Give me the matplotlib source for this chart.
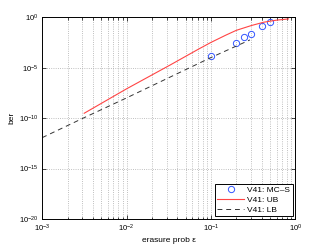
import matplotlib
matplotlib.use("Agg")
import matplotlib.pyplot as plt
from matplotlib.ticker import LogLocator, NullFormatter, FixedLocator

plt.rcParams['font.family'] = ['Liberation Sans', 'DejaVu Sans']

# MC-S simulation points
mc_eps = [0.1, 0.2, 0.25, 0.3, 0.4, 0.5]
mc_ber = [10**-3.8, 10**-2.6, 10**-2.0, 10**-1.7, 10**-0.86, 10**-0.47]

# Upper bound curve
ub_eps = [3.15e-3, 1e-2, 3.3e-2, 0.07, 0.1, 0.15, 0.2, 0.3, 0.42, 0.6, 0.83]
ub_ber = [10**-9.52, 10**-7.1, 10**-4.73, 10**-3.2, 10**-2.5, 10**-1.78, 10**-1.3,
          10**-0.83, 10**-0.5, 10**-0.29, 10**-0.17]

# Lower bound line
lb_eps = [1e-3, 3.07e-3, 1e-2, 0.1, 0.29]
lb_ber = [10**-11.94, 1e-10, 1e-8, 10**-4.0, 10**-2.25]

legend_labels = ['V41: MC\u2013S', 'V41: UB', 'V41: LB']

fig = plt.figure(figsize=(3.27, 2.46), dpi=100)
ax = fig.add_axes([0.129, 0.110, 0.774, 0.820])

ax.plot(mc_eps, mc_ber, 'o', mfc='none', mec='#3355ff', mew=0.7, ms=4.5, label=legend_labels[0])
ax.plot(ub_eps, ub_ber, '-', color='#ff4444', lw=0.8, label=legend_labels[1])
ax.plot(lb_eps, lb_ber, '--', color='#333333', lw=0.7, dashes=(5, 4), label=legend_labels[2])

ax.set_xscale('log')
ax.set_yscale('log')
ax.set_xlim(1e-3, 1e0)
ax.set_ylim(1e-20, 1e0)

ax.yaxis.set_major_locator(FixedLocator([1e-20, 1e-15, 1e-10, 1e-5, 1e0]))
ax.yaxis.set_minor_locator(FixedLocator([]))
ax.xaxis.set_major_locator(LogLocator(base=10, numticks=10))
ax.xaxis.set_minor_locator(LogLocator(base=10, subs=range(2, 10), numticks=20))
ax.xaxis.set_minor_formatter(NullFormatter())

ax.grid(True, which='major', linestyle=':', color='#aaaaaa', lw=0.6)
ax.grid(True, which='minor', axis='x', linestyle=':', color='#aaaaaa', lw=0.6)

ax.tick_params(which='both', direction='in', top=True, right=True, labelsize=5.5, width=0.5, pad=3)
ax.tick_params(which='major', length=3)
ax.tick_params(which='minor', length=1.8)
for s in ax.spines.values():
    s.set_linewidth(0.7)
    s.set_color('black')

ax.set_xlabel('erasure prob \u03b5', fontsize=6, labelpad=2)
ax.set_ylabel('ber', fontsize=6, labelpad=2)

leg = ax.legend(loc='lower right', fontsize=6, frameon=True, fancybox=False,
                edgecolor='black', framealpha=1, borderpad=0.3, labelspacing=0.25,
                handlelength=3.2, handletextpad=0.4, borderaxespad=0.3)
leg.get_frame().set_linewidth(0.7)

fig.savefig('out.png', dpi=100)
